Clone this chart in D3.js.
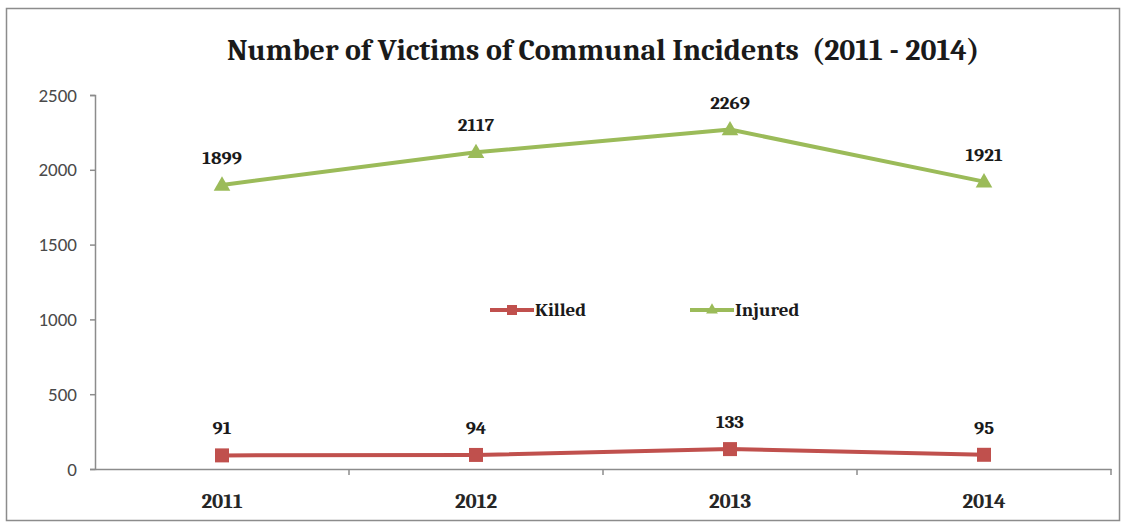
<!DOCTYPE html>
<html>
<head>
<meta charset="utf-8">
<script src="https://cdn.jsdelivr.net/npm/d3@7"></script>
<style>
  html, body { margin: 0; padding: 0; background: #fff; }
  svg { display: block; }
</style>
</head>
<body>
<svg id="chart" width="1129" height="529"></svg>
<script>
// Victims of communal incidents, by year
const years = ["2011", "2012", "2013", "2014"];
const killed = [91, 94, 133, 95];
const injured = [1899, 2117, 2269, 1921];
const yTicks = [0, 500, 1000, 1500, 2000, 2500];
const titleText = "Number of Victims of Communal Incidents  (2011 - 2014)";

const serif = "Cambria, 'DejaVu Serif', serif";
const sans = "Calibri, 'Liberation Sans', Arial, sans-serif";

const svg = d3.select("#chart");

// outer frame
svg.append("rect")
  .attr("x", 6.5).attr("y", 8.5)
  .attr("width", 1113).attr("height", 512)
  .attr("fill", "#fff").attr("stroke", "#8c8c8c").attr("stroke-width", 1.5);

const x = d3.scaleBand().domain(years).range([95, 1111]);
const y = d3.scaleLinear().domain([0, 2500]).range([469, 95]);

// title
svg.append("text")
  .attr("x", 603).attr("y", 60)
  .attr("text-anchor", "middle")
  .attr("font-family", serif).attr("font-weight", "bold")
  .attr("font-size", 30).attr("fill", "#1a1a1a")
  .style("white-space", "pre")
  .attr("xml:space", "preserve")
  .text(titleText);

// y axis
const yAxis = svg.append("g")
  .attr("transform", `translate(${x.range()[0]},0)`)
  .call(d3.axisLeft(y).tickValues(yTicks).tickSize(5).tickPadding(13).tickFormat(d3.format("d")));
yAxis.select(".domain").attr("stroke", "#8c8c8c").attr("stroke-width", 1.5);
yAxis.selectAll(".tick line").attr("stroke", "#8c8c8c").attr("stroke-width", 1.5);
yAxis.selectAll(".tick text")
  .attr("font-family", sans).attr("font-size", 19).attr("fill", "#4a4a4a");

// x axis, with ticks on the band boundaries
const xAxis = svg.append("g")
  .attr("transform", `translate(0,${y(0)})`)
  .call(d3.axisBottom(x).tickSize(0).tickPadding(24));
xAxis.select(".domain").attr("stroke", "#8c8c8c").attr("stroke-width", 1.5);
xAxis.selectAll(".tick text")
  .attr("font-family", serif).attr("font-weight", "bold")
  .attr("font-size", 21).attr("fill", "#262626");
const bounds = years.map(d => x(d)).concat([x.range()[1]]).slice(1);
xAxis.selectAll("line.bound")
  .data(bounds).enter().append("line")
  .attr("class", "bound")
  .attr("x1", d => d).attr("x2", d => d)
  .attr("y1", 0).attr("y2", 6)
  .attr("stroke", "#8c8c8c").attr("stroke-width", 1.5);

const cx = d => x(d) + x.bandwidth() / 2;
const line = d3.line().x(d => cx(d.year)).y(d => y(d.value));

const series = [
  { name: "Killed", values: killed, color: "#C0504D", marker: "square" },
  { name: "Injured", values: injured, color: "#9BBB59", marker: "triangle" }
];

const sqSym = d3.symbol().type(d3.symbolSquare);
const triSym = d3.symbol().type(d3.symbolTriangle);

series.forEach(s => {
  const pts = years.map((yr, i) => ({ year: yr, value: s.values[i] }));
  svg.append("path")
    .datum(pts)
    .attr("d", line)
    .attr("fill", "none")
    .attr("stroke", s.color)
    .attr("stroke-width", 4)
    .attr("stroke-linejoin", "round");

  svg.selectAll(null)
    .data(pts).enter().append("path")
    .attr("transform", d => `translate(${cx(d.year)},${y(d.value) + (s.marker === "triangle" ? 1 : 0)})`)
    .attr("d", s.marker === "square" ? sqSym.size(196)() : triSym.size(120)())
    .attr("fill", s.color);

  svg.selectAll(null)
    .data(pts).enter().append("text")
    .attr("x", d => cx(d.year))
    .attr("y", d => y(d.value) - 21)
    .attr("text-anchor", "middle")
    .attr("font-family", serif).attr("font-weight", "bold")
    .attr("font-size", 19).attr("fill", "#1a1a1a")
    .text(d => d.value);
});

// legend
const legend = svg.append("g").attr("transform", "translate(490,310)");
const legendX = [0, 200];
series.forEach((s, i) => {
  const g = legend.append("g").attr("transform", `translate(${legendX[i]},0)`);
  g.append("line")
    .attr("x1", 0).attr("x2", 44).attr("y1", 0).attr("y2", 0)
    .attr("stroke", s.color).attr("stroke-width", 4);
  g.append("path")
    .attr("transform", "translate(22,0)")
    .attr("d", s.marker === "square" ? sqSym.size(100)() : triSym.size(60)())
    .attr("fill", s.color);
  g.append("text")
    .attr("x", 45).attr("y", 6)
    .attr("font-family", serif).attr("font-weight", "bold")
    .attr("font-size", 19).attr("fill", "#1a1a1a")
    .text(s.name);
});
</script>
</body>
</html>
